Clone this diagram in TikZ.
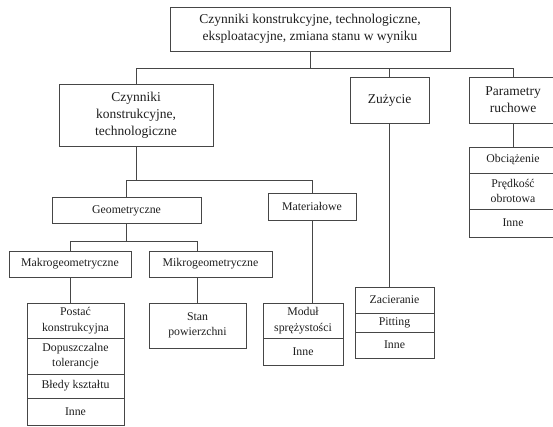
\documentclass[tikz,border=0pt]{standalone}
\usepackage{fontspec}
\setmainfont{Liberation Serif}
\usepackage{tikz}
\usetikzlibrary{positioning, calc}
\definecolor{framegray}{RGB}{70,70,70}
\definecolor{textgray}{RGB}{30,30,30}

\begin{document}
\begin{tikzpicture}[
    x=1pt, y=-1pt,
    block/.style={
        rectangle,
        draw=framegray,
        line width=0.9pt,
        inner sep=0pt,
        text=textgray,
        align=center,
        font=\fontsize{13.5}{17}\selectfont
    },
    cell/.style={
        block,
        font=\fontsize{11.8}{15.5}\selectfont
    },
    link/.style={draw=framegray, line width=0.9pt}
]
\useasboundingbox (0,0) rectangle (553,426);

% main levels
\node[block, minimum width=280, minimum height=44] (top) at (310,29)
    {Czynniki konstrukcyjne, technologiczne,\\eksploatacyjne, zmiana stanu w wyniku};
\node[block, minimum width=154, minimum height=62] (kt) at (136,115)
    {Czynniki\\konstrukcyjne,\\technologiczne};
\node[block, minimum width=79, minimum height=46] (zuz) at (389.5,100) {Zużycie};
\node[block, minimum width=88, minimum height=46] (par) at (513,100) {Parametry\\ruchowe};

% geometry / material
\node[cell, minimum width=149, minimum height=26] (geo) at (126.5,210.5) {Geometryczne};
\node[cell, minimum width=88, minimum height=27] (mat) at (312,206.5) {Materiałowe};
\node[cell, minimum width=122, minimum height=26] (makro) at (70,264) {Makrogeometryczne};
\node[cell, minimum width=123, minimum height=26] (mikro) at (210.5,264) {Mikrogeometryczne};

% Makro stack
\node[cell, minimum width=97, minimum height=35] (postac) at (75.5,320.5) {Postać\\konstrukcyjna};
\node[cell, minimum width=97, minimum height=36] (dopusz) at (75.5,356) {Dopuszczalne\\tolerancje};
\node[cell, minimum width=97, minimum height=24] (bledy) at (75.5,386) {Błedy kształtu};
\node[cell, minimum width=97, minimum height=27] (inne1) at (75.5,411.5) {Inne};

% Mikro
\node[cell, minimum width=97, minimum height=45] (stan) at (197.5,325.5) {Stan\\powierzchni};

% Material stack
\node[cell, minimum width=80, minimum height=35] (modul) at (303,320.5) {Moduł\\sprężystości};
\node[cell, minimum width=80, minimum height=27] (inne2) at (303,351.5) {Inne};

% Wear stack
\node[cell, minimum width=79, minimum height=26] (zac) at (394.5,300) {Zacieranie};
\node[cell, minimum width=79, minimum height=19] (pit) at (394.5,322.5) {Pitting};
\node[cell, minimum width=79, minimum height=26] (inne3) at (394.5,345) {Inne};

% Motion parameters stack
\node[cell, minimum width=88, minimum height=26] (obc) at (513,160) {Obciążenie};
\node[cell, minimum width=88, minimum height=36] (pred) at (513,191) {Prędkość\\obrotowa};
\node[cell, minimum width=88, minimum height=28] (inne4) at (513,223) {Inne};

% tree lines
\draw[link] (top.south) -- ++(0,17) coordinate (b1);
\draw[link] (kt.north) |- (b1) -| (par.north);
\draw[link] (zuz.north) -- (zuz.north |- b1);

\draw[link] (kt.south) -- ++(0,34) coordinate (b2);
\draw[link] (geo.north) |- (b2) -| (mat.north);

\draw[link] (geo.south) -- ++(0,17.5) coordinate (b3);
\draw[link] (makro.north) |- (b3) -| (mikro.north -| stan.north);

\draw[link] (makro.south) -- (makro.south |- postac.north);
\draw[link] (mikro.south -| stan.north) -- (stan.north);
\draw[link] (mat.south) -- (mat.south |- modul.north);
\draw[link] (zuz.south) -- (zuz.south |- zac.north);
\draw[link] (par.south) -- (obc.north);

\end{tikzpicture}
\end{document}
